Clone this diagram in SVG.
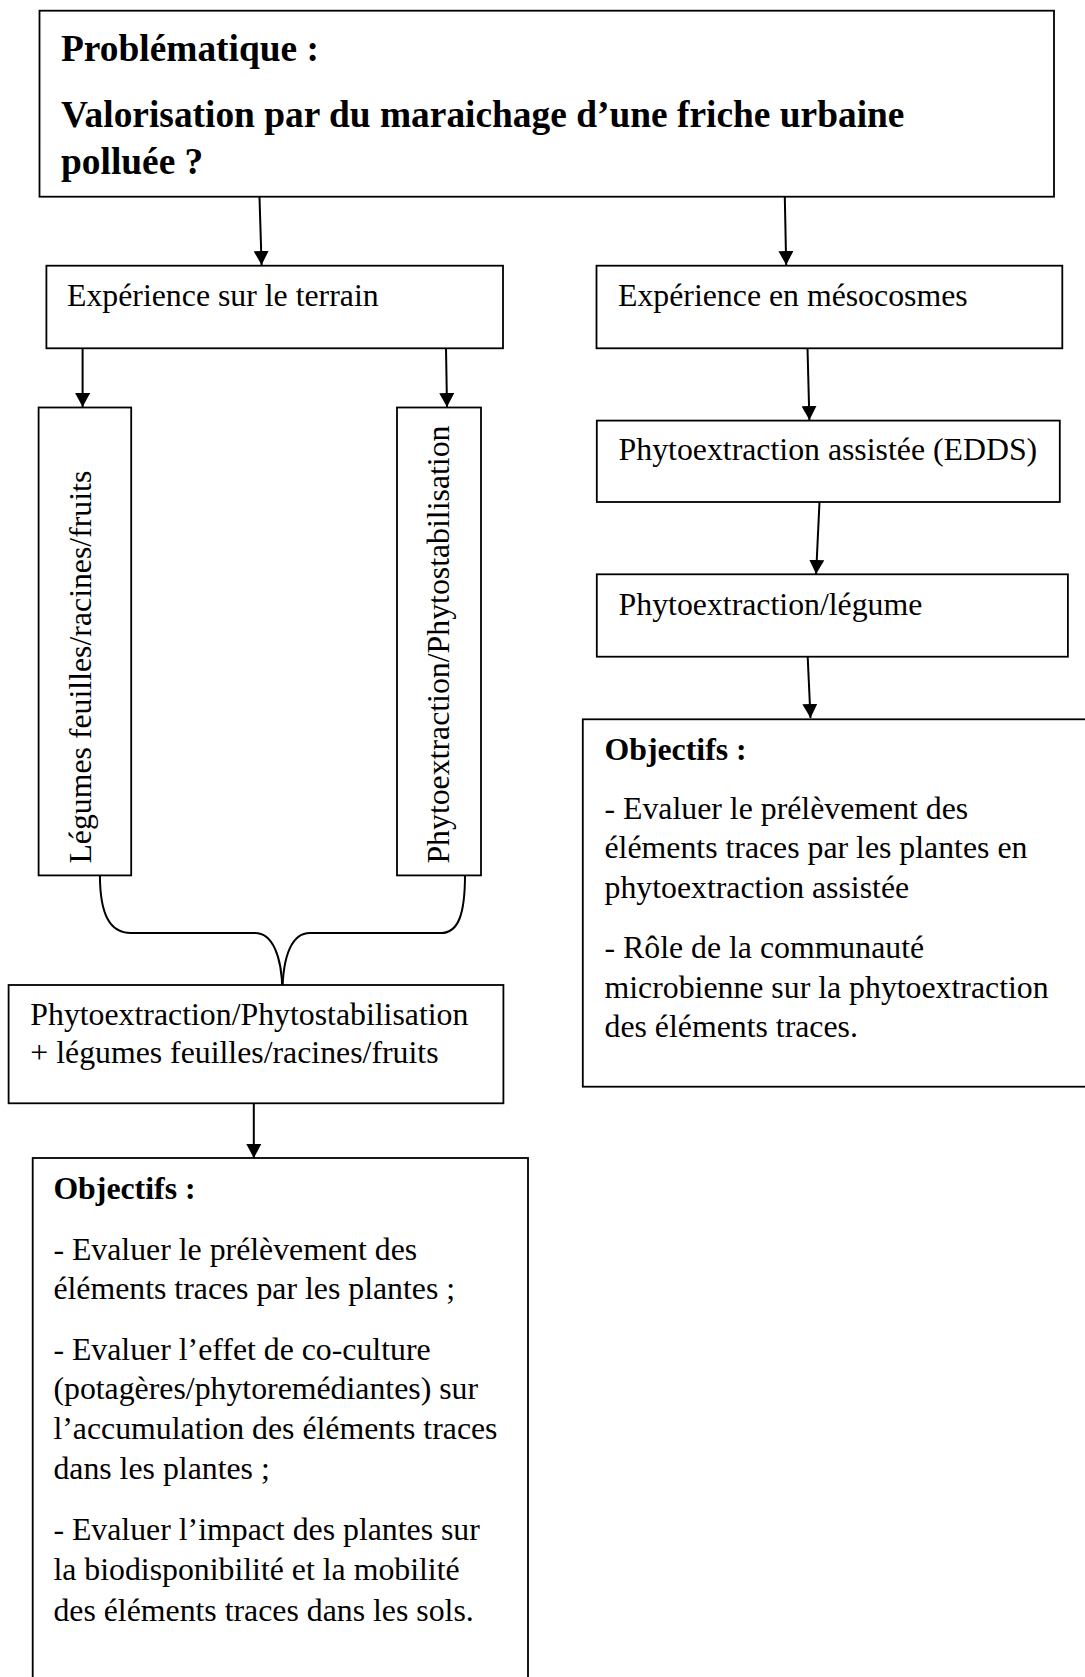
<svg xmlns="http://www.w3.org/2000/svg" width="1085" height="1677" viewBox="0 0 1085 1677">
<defs>
<style>
.box{fill:#fff;stroke:#000;stroke-width:1.8}
.t{font-family:"Liberation Serif","Times New Roman",serif;font-size:31.8px;fill:#000}
.b{font-weight:bold}
.title{font-family:"Liberation Serif","Times New Roman",serif;font-size:37.4px;font-weight:bold;fill:#000}
.conn{fill:none;stroke:#000;stroke-width:2}
</style>
<marker id="ah" viewBox="0 0 14 15" refX="14" refY="7.5" markerWidth="14" markerHeight="15" markerUnits="userSpaceOnUse" orient="auto">
<path d="M0,0 L14,7.5 L0,15 z" fill="#000"/>
</marker>
</defs>
<rect width="1085" height="1677" fill="#fff"/>

<g id="connectors">
<path class="conn" d="M259.5,197 L261.6,265" marker-end="url(#ah)"/>
<path class="conn" d="M784.8,197 L786.2,265" marker-end="url(#ah)"/>
<path class="conn" d="M82.6,348 L82.6,407" marker-end="url(#ah)"/>
<path class="conn" d="M446,348 L447,407" marker-end="url(#ah)"/>
<path class="conn" d="M807.5,348 L809.4,420" marker-end="url(#ah)"/>
<path class="conn" d="M819.5,502 L816.1,574" marker-end="url(#ah)"/>
<path class="conn" d="M807.7,657 L810.5,718" marker-end="url(#ah)"/>
<path class="conn" d="M99.9,875 C100,915 110,933 131,933 L255,933 C272,933 282,955 282.4,992"/>
<path class="conn" d="M282.4,992 C283,955 292,933 310,933 L441,933 C458,933 465,915 465,875"/>
<path class="conn" d="M253.8,1103 L253.8,1158" marker-end="url(#ah)"/>
</g>

<g id="problematique">
<rect class="box" x="39.5" y="10.7" width="1014.5" height="186"/>
<text class="title" x="61" y="61">Problématique :</text>
<text class="title" x="61" y="127">Valorisation par du maraichage d’une friche urbaine</text>
<text class="title" x="61" y="174">polluée ?</text>
</g>

<g id="experience-terrain">
<rect class="box" x="46.4" y="265.7" width="456.6" height="82.6"/>
<text class="t" x="67" y="306">Expérience sur le terrain</text>
</g>

<g id="experience-mesocosmes">
<rect class="box" x="596.5" y="265.7" width="465.8" height="82.6"/>
<text class="t" x="618" y="306">Expérience en mésocosmes</text>
</g>

<g id="legumes">
<rect class="box" x="38.6" y="407.5" width="92.6" height="467.9"/>
<text class="t" transform="translate(91.3,863.6) rotate(-90)">Légumes feuilles/racines/fruits</text>
</g>

<g id="phyto-stab">
<rect class="box" x="397" y="407.5" width="84" height="467.9"/>
<text class="t" transform="translate(448.5,863.6) rotate(-90)">Phytoextraction/Phytostabilisation</text>
</g>

<g id="phyto-assistee">
<rect class="box" x="596.8" y="420.6" width="463" height="81.4"/>
<text class="t" x="618.6" y="460.3">Phytoextraction assistée (EDDS)</text>
</g>

<g id="phyto-legume">
<rect class="box" x="596.8" y="574.3" width="471.1" height="82.4"/>
<text class="t" x="618.6" y="614.5">Phytoextraction/légume</text>
</g>

<g id="objectifs-droite">
<rect class="box" x="582.8" y="719.3" width="520" height="367.4"/>
<text class="t b" x="604.5" y="760">Objectifs :</text>
<text class="t" x="604.5" y="819">- Evaluer le prélèvement des</text>
<text class="t" x="604.5" y="858">éléments traces par les plantes en</text>
<text class="t" x="604.5" y="897.5">phytoextraction assistée</text>
<text class="t" x="604.5" y="958">- Rôle de la communauté</text>
<text class="t" x="604.5" y="997.5">microbienne sur la phytoextraction</text>
<text class="t" x="604.5" y="1037">des éléments traces.</text>
</g>

<g id="phyto-combine">
<rect class="box" x="8.6" y="985" width="494.8" height="118.3"/>
<text class="t" x="30.3" y="1025">Phytoextraction/Phytostabilisation</text>
<text class="t" x="30.3" y="1063.3">+ légumes feuilles/racines/fruits</text>
</g>

<g id="objectifs-gauche">
<rect class="box" x="32.7" y="1158" width="495.3" height="540"/>
<text class="t b" x="53.4" y="1199">Objectifs :</text>
<text class="t" x="53.4" y="1260">- Evaluer le prélèvement des</text>
<text class="t" x="53.4" y="1299">éléments traces par les plantes ;</text>
<text class="t" x="53.4" y="1359.5">- Evaluer l’effet de co-culture</text>
<text class="t" x="53.4" y="1399">(potagères/phytoremédiantes) sur</text>
<text class="t" x="53.4" y="1438.6">l’accumulation des éléments traces</text>
<text class="t" x="53.4" y="1478.5">dans les plantes ;</text>
<text class="t" x="53.4" y="1539.8">- Evaluer l’impact des plantes sur</text>
<text class="t" x="53.4" y="1580.3">la biodisponibilité et la mobilité</text>
<text class="t" x="53.4" y="1620.8">des éléments traces dans les sols.</text>
</g>
</svg>
